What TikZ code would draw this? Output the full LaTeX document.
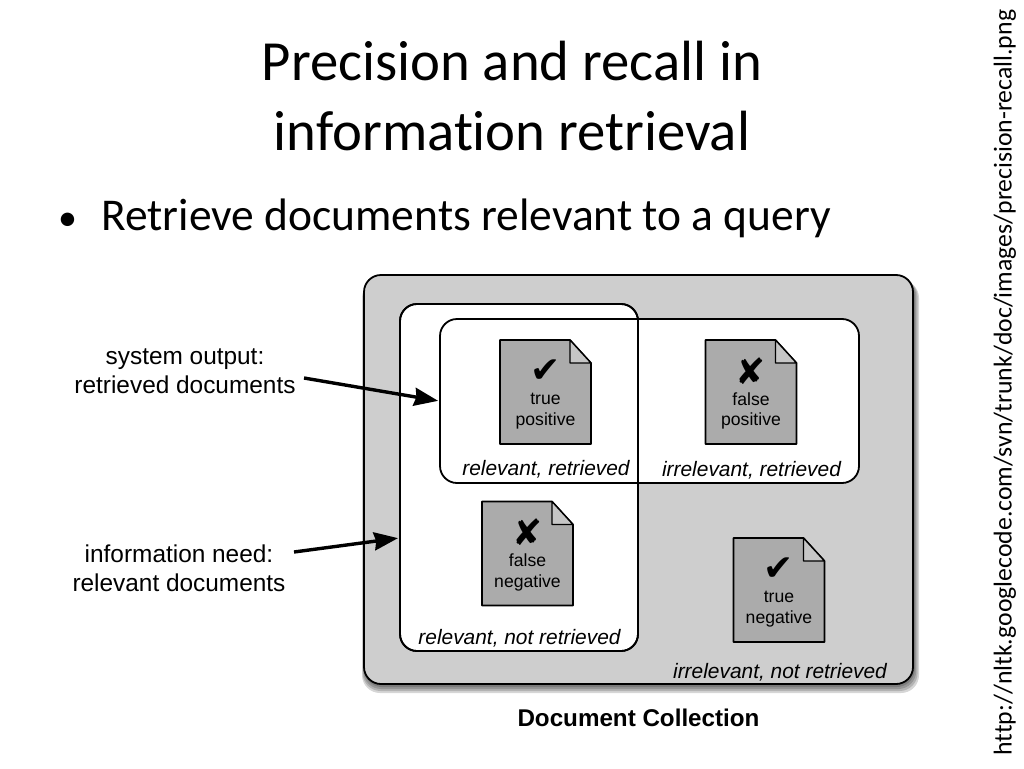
\documentclass[tikz,border=0pt]{standalone}
\usepackage{fontspec}
\setmainfont[Ligatures={NoCommon}]{Carlito}
\newfontfamily\labelfont{Liberation Sans}
\newfontfamily\markfont{DejaVu Sans}
\usetikzlibrary{positioning}
\usetikzlibrary{arrows.meta}
\definecolor{collectiongray}{HTML}{CECECE}
\definecolor{docgray}{HTML}{ABABAB}
\definecolor{foldgray}{HTML}{C6C6C6}
\tikzstyle{title}=[font=\fontsize{56.7}{70}\selectfont,align=center]
\tikzstyle{bullet}=[font=\fontsize{45.5}{50}\selectfont,anchor=base west,inner sep=0pt]
\tikzstyle{source}=[font=\fontsize{25.75}{28}\selectfont,rotate=90,inner sep=0pt]
\tikzstyle{box}=[draw=black,line width=1.8pt,rounded corners=17pt,inner sep=0pt]
\tikzstyle{doc}=[draw=black,line width=1.6pt,fill=docgray,line join=round]
\tikzstyle{fold}=[draw=black,line width=1.4pt,fill=foldgray,line join=round]
\tikzstyle{doctext}=[font=\labelfont\fontsize{17.6}{20.5}\selectfont,align=center,inner sep=0pt]
\tikzstyle{docmark}=[font=\markfont\fontsize{36}{36}\selectfont,inner sep=0pt]
\tikzstyle{caption}=[font=\labelfont\itshape\fontsize{20.9}{24}\selectfont,inner sep=0pt]
\tikzstyle{sidetext}=[font=\labelfont\fontsize{24.4}{29}\selectfont,align=center,inner sep=0pt]
\tikzstyle{edge}=[draw=black,line width=3.4pt,-{Stealth[length=24pt,width=18pt,inset=2pt]},shorten >=1pt]
\begin{document}
\begin{tikzpicture}[x=1pt,y=-1pt]
    \useasboundingbox (0,0) rectangle (1024,768);
    \fill[white] (0,0) rectangle (1024,768);

    \node[title] (heading) at (512,96) {Precision and recall in\\information retrieval};
    \node[bullet] (dot) at (58,230) {\fontsize{38}{50}\selectfont •};
    \node[bullet] (query) at (101,230) {Retrieve documents relevant to a query};
    \node[source] (url) at (1005,382.5) {http://nltk.googlecode.com/svn/trunk/doc/images/precision-recall.png};

    % soft shadow under the collection
    \foreach \off/\grow in {1/0, 2/1, 3/2, 4/3, 5/4}
        \fill[black,opacity=.16,rounded corners=18pt] (364-\grow+\off*.4,275+\off) rectangle (913+\grow+\off*.4,684+\off+\grow);

    % collection and the two white sets
    \node[box,fill=collectiongray,minimum width=549pt,minimum height=409pt] (collection) at (638.5,479.5) {};
    \node[box,fill=white,minimum width=238pt,minimum height=347pt] (relevant) at (519,477.5) {};
    \node[box,fill=white,minimum width=419pt,minimum height=164pt] (retrieved) at (649.5,401) {};
    \node[box,minimum width=238pt,minimum height=347pt] (relevantline) at (519,477.5) {};

    % documents
    \foreach \pos/\name/\mark/\lineone/\linetwo in {{(545.5,392)/tp/✔/true/positive}, {(751,392)/fp/✘/false/positive}, {(527.5,553.5)/fn/✘/false/negative}, {(779,590)/tn/✔/true/negative}}
    {
        \draw[doc] \pos ++(-45.5,-52) -- ++(70,0) -- ++(21,23) -- ++(0,81) -- ++(-91,0) -- cycle;
        \draw[fold] \pos ++(24.5,-52) -- ++(21,23) -- ++(-21,0) -- cycle;
        \node[doctext] (\name) at \pos [yshift=-19pt] {\lineone\\\linetwo};
        \node[docmark] (\name mark) at \pos [yshift=21pt] {\mark};
    }

    % captions
    \foreach \pos/\name/\label in {{(546,469)/tpcap/relevant, retrieved}, {(751.5,470)/fpcap/irrelevant, retrieved}, {(519.5,638)/fncap/relevant, not retrieved}, {(780,672)/tncap/irrelevant, not retrieved}}
        \node[caption] (\name) at \pos {\label};

    \node[font=\labelfont\bfseries\fontsize{24.2}{26}\selectfont,inner sep=0pt] (collectionname) at (638.5,718) {Document Collection};

    % side labels and arrows
    \node[sidetext] (sysout) at (185,371) {system output:\\retrieved documents};
    \node[sidetext] (need) at (179,568.5) {information need:\\relevant documents};
    \coordinate (sysstart) at (304,378);
    \coordinate (needstart) at (294,552);
    \coordinate (needend) at (399,538);
    \path[edge] (sysstart) -- (retrieved.west);
    \path[edge] (needstart) -- (needend);
\end{tikzpicture}
\end{document}
